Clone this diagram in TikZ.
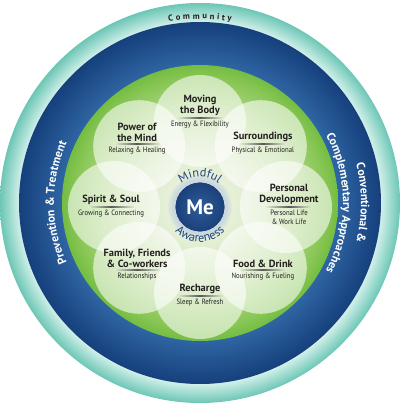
\documentclass[tikz,border=0pt]{standalone}
\usepackage{fontspec}
\setmainfont{PT Sans}
\newfontfamily\subfont[FakeStretch=0.88]{PT Sans}
\usetikzlibrary{positioning,decorations.text}

\definecolor{tealD}{HTML}{6CC6B5}
\definecolor{tealL}{HTML}{D2F0EA}
\definecolor{navyD}{HTML}{15407C}
\definecolor{navyL}{HTML}{2F65A3}
\definecolor{greenE}{HTML}{74BD42}
\definecolor{greenQ}{HTML}{86C553}
\definecolor{greenM}{HTML}{B2D889}
\definecolor{greenS}{HTML}{E2EED2}
\definecolor{greenC}{HTML}{F1F6EA}
\definecolor{meL}{HTML}{2D5C99}
\definecolor{meD}{HTML}{1B4079}
\definecolor{halo}{HTML}{B9CBE2}
\definecolor{ink}{HTML}{231F20}
\definecolor{mindink}{HTML}{1F4479}

\pgfdeclareradialshading{tealring}{\pgfpoint{0bp}{0bp}}{color(0bp)=(tealL); color(22.6bp)=(tealL); color(25bp)=(tealD); color(50bp)=(tealD)}
\pgfdeclareradialshading{navyring}{\pgfpoint{0bp}{0bp}}{color(0bp)=(navyL); color(19bp)=(navyL); color(25bp)=(navyD); color(50bp)=(navyD)}
\pgfdeclareradialshading{greendisc}{\pgfpoint{0bp}{0bp}}{color(0bp)=(greenC); color(8bp)=(greenS); color(17bp)=(greenM); color(23bp)=(greenQ); color(25bp)=(greenE); color(50bp)=(greenE)}
\pgfdeclareradialshading{meball}{\pgfpoint{0bp}{0bp}}{color(0bp)=(meL); color(25bp)=(meD); color(50bp)=(meD)}

\begin{document}
\begin{tikzpicture}[
    title/.style={font=\bfseries\fontsize{10.4}{10.8}\selectfont, text=ink, align=center, inner sep=0pt},
    sub/.style={font=\subfont\fontsize{7.7}{9}\selectfont, text=ink, align=center, inner sep=0pt},
    petal/.style={fill=white, fill opacity=.58},
    rulefade/.style={left color=greenS, right color=greenS, middle color=ink!75},
    ringtext/.style={decorate, decoration={text along path, text align=center, text color=white, text={#1}}}]
    \useasboundingbox (-200pt,-202pt) rectangle (200pt,203pt);

    % rings
    \shade[shading=tealring] (0,0) circle (200pt);
    \shade[shading=navyring] (0,0) circle (181pt);
    \shade[shading=greendisc] (0,0) circle (138pt);

    % ring labels
    \path[ringtext={|\bfseries\fontsize{8.6}{10}\selectfont|{C\kern2.6pt}{o\kern2.6pt}{m\kern2.6pt}{m\kern2.6pt}{u\kern2.6pt}{n\kern2.6pt}{i\kern2.6pt}{t\kern2.6pt}{y}},
          decoration={text color=ink}]
        (150:184pt) arc[start angle=150, end angle=30, radius=184pt];
    \path[ringtext={|\bfseries\fontsize{11.8}{13}\selectfont|Prevention {\&} Treatment}]
        (250:146pt) arc[start angle=250, end angle=110, radius=146pt];
    \path[ringtext={|\bfseries\fontsize{11.8}{13}\selectfont|Conventional {\&}}]
        (70:161pt) arc[start angle=70, end angle=-70, radius=161pt];
    \path[ringtext={|\bfseries\fontsize{11.8}{13}\selectfont|Complementary Approaches}]
        (80:143pt) arc[start angle=80, end angle=-80, radius=143pt];

    \begin{scope}[shift={(0,-4pt)}]
    % petals
    \foreach \a in {90,45,...,-225}
        \fill[petal] (\a:86pt) circle (46pt);

    % petal labels
    \foreach \a/\t/\s [count=\i] in {
        90/{Moving\\the Body}/{Energy \& Flexibility},
        45/{Surroundings}/{Physical \& Emotional},
        0/{Personal\\Development}/{Personal Life\\\& Work Life},
        -45/{Food \& Drink}/{Nourishing \& Fueling},
        -90/{Recharge}/{Sleep \& Refresh},
        -135/{Family, Friends\\\& Co-workers}/{Relationships},
        180/{Spirit \& Soul}/{Growing \& Connecting},
        135/{Power of\\the Mind}/{Relaxing \& Healing}}{
        \coordinate (r\i) at (\a:89pt);
        \node[title, above=2.5pt of r\i] (t\i) {\t};
        \shade[rulefade] ([xshift=-23pt,yshift=-.35pt]r\i) rectangle ([xshift=23pt,yshift=.35pt]r\i);
        \node[sub, below=3pt of r\i] (s\i) {\s};
    }

    % centre
    \foreach \k in {1,...,7}
        \fill[halo, opacity=.14] (0,0) circle[radius=25pt+\k pt];
    \node[circle, minimum size=50pt, inner sep=0pt, shade, shading=meball, draw=white!60!halo, line width=.6pt,
          text=white, font=\bfseries\fontsize{21}{21}\selectfont] (me) at (0,0) {Me};
    \path[decorate, decoration={text along path, text align=center, text color=mindink,
          text={|\fontsize{12.2}{14}\selectfont|Mindful}}]
        (170:30pt) arc[start angle=170, end angle=10, radius=30pt];
    \path[decorate, decoration={text along path, text align=center, text color=mindink,
          text={|\fontsize{12.2}{14}\selectfont|Awareness}}]
        (190:35pt) arc[start angle=190, end angle=350, radius=35pt];
    \end{scope}
\end{tikzpicture}
\end{document}
